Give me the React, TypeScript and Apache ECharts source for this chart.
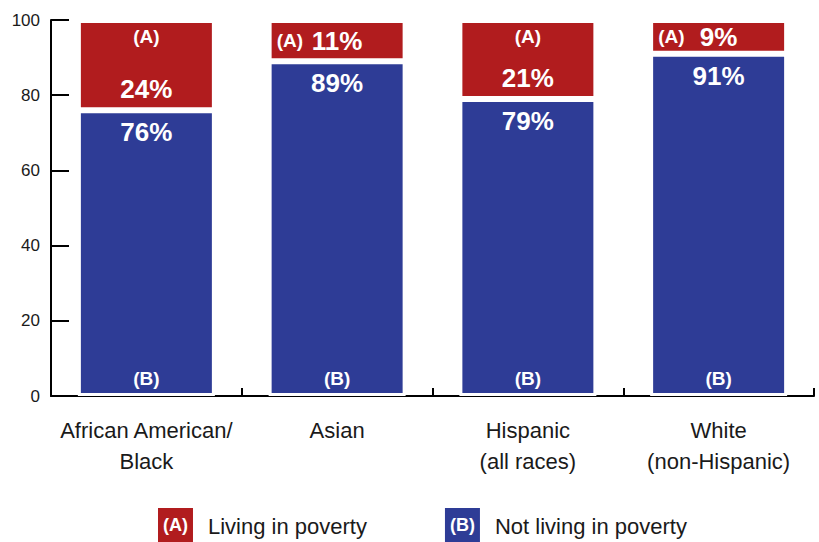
import React, { useEffect, useRef } from "react";
import * as echarts from "echarts";

const categories = ["African American/\nBlack", "Asian", "Hispanic\n(all races)", "White\n(non-Hispanic)"];
const livingInPoverty = [24, 11, 21, 9];
const notLivingInPoverty = [76, 89, 79, 91];
const yTicks = [0, 20, 40, 60, 80, 100];
const seriesNames = ["Living in poverty", "Not living in poverty"];
const seriesTags = ["(A)", "(B)"];

const RED = "#b11c1e";
const BLUE = "#2e3c96";
const FONT = "'Liberation Sans', Arial, Helvetica, sans-serif";
const SMALL = 15; // red segments below this value get a single-line label

export default function App() {
  const ref = useRef<HTMLDivElement>(null);
  useEffect(() => {
    if (!ref.current) return;
    const chart = echarts.init(ref.current, null, { renderer: "svg" });
    const pctLabel = { color: "#fff", fontFamily: FONT, fontWeight: "bold" as const, fontSize: 26 };
    const tagLabel = { color: "#fff", fontFamily: FONT, fontWeight: "bold" as const, fontSize: 19 };
    const barW = 137;
    chart.setOption({
      animation: false,
      grid: { left: 51, right: 5, top: 20, bottom: 146, containLabel: false },
      legend: {
        data: [seriesNames[0], seriesNames[1]],
        left: 147,
        bottom: -5,
        itemWidth: 0,
        itemHeight: 0,
        itemGap: 72,
        icon: "rect",
        selectedMode: false,
        formatter: (name: string) => {
          const i = seriesNames.indexOf(name);
          return `{${i === 0 ? "a" : "b"}|${seriesTags[i]}}{t|${name}}`;
        },
        textStyle: {
          fontFamily: FONT,
          rich: {
            a: { backgroundColor: RED, color: "#fff", fontFamily: FONT, fontWeight: "bold", fontSize: 18, padding: [8, 5, 8, 5] },
            b: { backgroundColor: BLUE, color: "#fff", fontFamily: FONT, fontWeight: "bold", fontSize: 18, padding: [8, 5, 8, 5] },
            t: { color: "#1a1a1a", fontFamily: FONT, fontSize: 22, padding: [3, 0, 0, 15] },
          },
        },
      },
      xAxis: {
        type: "category",
        data: categories,
        axisLine: { lineStyle: { color: "#000", width: 2 } },
        axisTick: { show: true, inside: true, length: 8, lineStyle: { color: "#000", width: 2 } },
        axisLabel: { interval: 0, color: "#1a1a1a", fontFamily: FONT, fontSize: 22, lineHeight: 31, margin: 19 },
      },
      yAxis: {
        type: "value",
        min: yTicks[0],
        max: yTicks[yTicks.length - 1],
        interval: 20,
        splitLine: { show: false },
        axisLine: { show: true, lineStyle: { color: "#000", width: 2 } },
        axisTick: { show: true, inside: true, length: 18, lineStyle: { color: "#000", width: 2 } },
        axisLabel: { color: "#1a1a1a", fontFamily: FONT, fontSize: 17, margin: 11 },
      },
      series: [
        {
          name: seriesNames[1],
          type: "bar",
          stack: "main",
          barWidth: barW,
          itemStyle: { color: BLUE, borderColor: "#fff", borderWidth: 3 },
          label: { show: true, position: "insideTop", distance: 9, ...pctLabel, formatter: (p: any) => `${p.value}%` },
          data: notLivingInPoverty,
          z: 2,
        },
        {
          name: seriesNames[0],
          type: "bar",
          stack: "main",
          barWidth: barW,
          itemStyle: { color: RED, borderColor: "#fff", borderWidth: 3 },
          data: livingInPoverty.map((v) => ({
            value: v,
            label: {
              show: true,
              position: v < SMALL ? "inside" : "insideBottom",
              distance: 8,
              ...pctLabel,
              formatter: `${v}%`,
            },
          })),
          z: 2,
        },
        {
          name: "tagB",
          type: "bar",
          stack: "tags",
          barWidth: barW,
          barGap: "-100%",
          itemStyle: { color: "rgba(0,0,0,0)" },
          label: { show: true, position: "insideBottom", distance: 8, ...tagLabel, formatter: seriesTags[1] },
          data: notLivingInPoverty,
          z: 3,
        },
        {
          name: "tagA",
          type: "bar",
          stack: "tags",
          barWidth: barW,
          barGap: "-100%",
          itemStyle: { color: "rgba(0,0,0,0)" },
          data: livingInPoverty.map((v) => ({
            value: v,
            label: {
              show: true,
              position: v < SMALL ? "insideLeft" : "insideTop",
              distance: v < SMALL ? 8 : 7,
              ...tagLabel,
              formatter: seriesTags[0],
            },
          })),
          z: 3,
        },
      ],
    });
    return () => chart.dispose();
  }, []);
  return <div ref={ref} style={{ width: 819, height: 542, position: "absolute", left: 0, top: 0 }} />;
}
